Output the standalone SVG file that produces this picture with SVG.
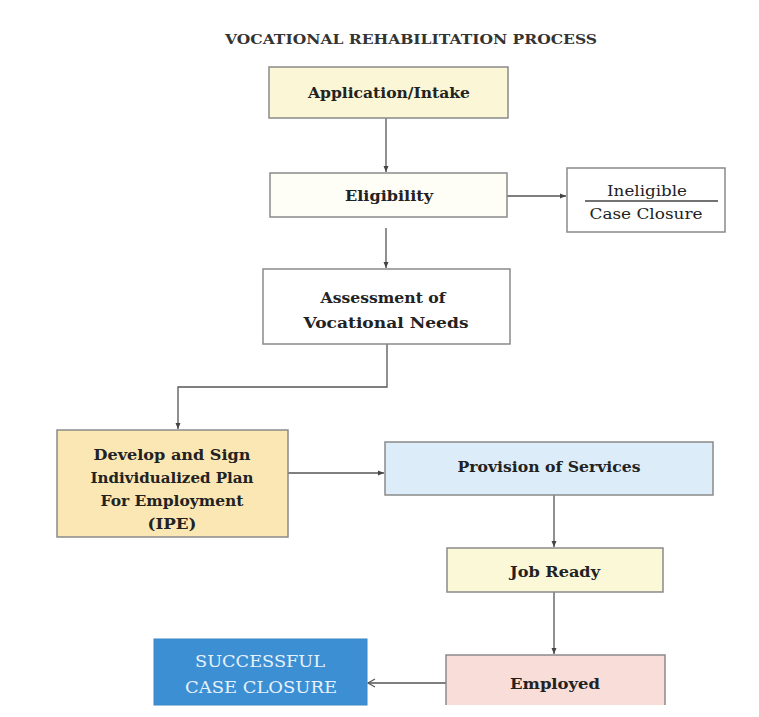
<svg xmlns="http://www.w3.org/2000/svg" width="759" height="717" viewBox="0 0 759 717">
<style>
.box{stroke:#8a8a8a;stroke-width:1.5}
.t{font-family:"DejaVu Serif","Liberation Serif",serif;font-size:15px;font-weight:bold;fill:#222;text-anchor:middle}
.n{font-weight:normal}
.w{font-weight:normal;fill:#e6f2fb;font-size:16px}
.c{stroke:#555;stroke-width:1.3;fill:none}
</style>
<defs>
<marker id="ah" markerWidth="8" markerHeight="8" refX="6" refY="4" orient="auto" markerUnits="userSpaceOnUse">
<path d="M0,1.5 L6,4 L0,6.5 Z" fill="#444"/>
</marker>
<marker id="oh" markerWidth="10" markerHeight="10" refX="8" refY="5" orient="auto" markerUnits="userSpaceOnUse">
<path d="M1,1 L8,5 L1,9" fill="none" stroke="#555" stroke-width="1.2"/>
</marker>
</defs>
<rect width="759" height="717" fill="#ffffff"/>
<text x="411" y="44" textLength="372" lengthAdjust="spacingAndGlyphs" style="font-family:'DejaVu Serif','Liberation Serif',serif;font-size:12px;font-weight:bold;fill:#333;text-anchor:middle">VOCATIONAL REHABILITATION PROCESS</text>

<g id="connectors">
<line class="c" x1="386" y1="118" x2="386" y2="172" marker-end="url(#ah)"/>
<line class="c" x1="507" y1="196" x2="566" y2="196" marker-end="url(#ah)"/>
<line class="c" x1="386" y1="228" x2="386" y2="268" marker-end="url(#ah)"/>
<polyline class="c" points="387,344 387,387 178,387 178,429" marker-end="url(#ah)"/>
<line class="c" x1="288" y1="473" x2="384" y2="473" marker-end="url(#ah)"/>
<line class="c" x1="554" y1="495" x2="554" y2="547" marker-end="url(#ah)"/>
<line class="c" x1="554" y1="592" x2="554" y2="654" marker-end="url(#ah)"/>
<line class="c" x1="446" y1="683" x2="368" y2="683" marker-end="url(#oh)"/>
</g>

<g id="application">
<rect class="box" x="269" y="67" width="239" height="51" fill="#fbf7d6"/>
<text class="t" x="389" y="98" textLength="162" lengthAdjust="spacingAndGlyphs">Application/Intake</text>
</g>
<g id="eligibility">
<rect class="box" x="270" y="173" width="237" height="44" fill="#fefdf6"/>
<text class="t" x="389" y="201" textLength="88" lengthAdjust="spacingAndGlyphs">Eligibility</text>
</g>
<g id="ineligible">
<rect class="box" x="567" y="168" width="158" height="64" fill="#ffffff"/>
<text class="t n" x="647" y="196" textLength="80" lengthAdjust="spacingAndGlyphs">Ineligible</text>
<line x1="585" y1="201" x2="718" y2="201" stroke="#444" stroke-width="1.3"/>
<text class="t n" x="646" y="219" textLength="113" lengthAdjust="spacingAndGlyphs">Case Closure</text>
</g>
<g id="assessment">
<rect class="box" x="263" y="269" width="247" height="75" fill="#ffffff"/>
<text class="t" x="383" y="303" textLength="125" lengthAdjust="spacingAndGlyphs">Assessment of</text>
<text class="t" x="386" y="328" textLength="165" lengthAdjust="spacingAndGlyphs">Vocational Needs</text>
</g>
<g id="ipe">
<rect class="box" x="57" y="430" width="231" height="107" fill="#fbe7b4"/>
<text class="t" x="172" y="460" textLength="157" lengthAdjust="spacingAndGlyphs">Develop and Sign</text>
<text class="t" x="172" y="483" textLength="163" lengthAdjust="spacingAndGlyphs">Individualized Plan</text>
<text class="t" x="172" y="506" textLength="143" lengthAdjust="spacingAndGlyphs">For Employment</text>
<text class="t" x="172" y="529" textLength="49" lengthAdjust="spacingAndGlyphs">(IPE)</text>
</g>
<g id="provision">
<rect class="box" x="385" y="442" width="328" height="53" fill="#dcedf9"/>
<text class="t" x="549" y="472" textLength="183" lengthAdjust="spacingAndGlyphs">Provision of Services</text>
</g>
<g id="jobready">
<rect class="box" x="447" y="548" width="216" height="44" fill="#fbf8d8"/>
<text class="t" x="555" y="577" textLength="90" lengthAdjust="spacingAndGlyphs">Job Ready</text>
</g>
<g id="employed">
<rect x="446" y="655" width="219" height="50" fill="#f9ddd8"/>
<path class="box" d="M446,705 V655 H665 V705" fill="none"/>
<text class="t" x="555" y="689" textLength="90" lengthAdjust="spacingAndGlyphs">Employed</text>
</g>
<g id="successful">
<rect x="154" y="639" width="213" height="66" fill="#3d8fd3" stroke="#3a86c4" stroke-width="1"/>
<text class="t w" x="260" y="667" textLength="130" lengthAdjust="spacingAndGlyphs">SUCCESSFUL</text>
<text class="t w" x="261" y="693" textLength="152" lengthAdjust="spacingAndGlyphs">CASE CLOSURE</text>
</g>
</svg>
